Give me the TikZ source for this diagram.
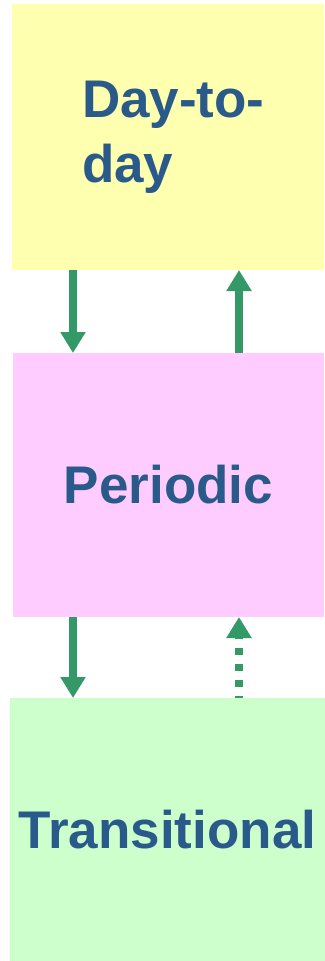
\documentclass[tikz,border=0pt]{standalone}
\usepackage{fontspec}
\setmainfont{Liberation Sans}
\usetikzlibrary{arrows.meta}
\definecolor{yel}{HTML}{FFFFB0}
\definecolor{pnk}{HTML}{FFCCFF}
\definecolor{grn}{HTML}{CCFFCC}
\definecolor{arrg}{HTML}{339966}
\definecolor{txt}{HTML}{2A5A8A}
\begin{document}
\begin{tikzpicture}[x=1pt,y=-1pt,
  box/.style={inner sep=0pt, outer sep=0pt, text=txt,
    font=\fontsize{53}{65}\selectfont\bfseries},
  arr/.style={draw=arrg, line width=8.5pt, -{Triangle[width=24pt,length=21pt]}, shorten >=0pt}]
\useasboundingbox (0,0) rectangle (324,961);
\node[box, fill=yel, minimum width=312pt, minimum height=266pt] (day) at (168,137) {};
\node[box, anchor=west, align=left] (daytxt) at (82,137) {Day-to-\\day};
\node[box, fill=pnk, minimum width=311pt, minimum height=264pt] (per) at (168.5,485) {Periodic};
\node[box, fill=grn, minimum width=314.5pt, minimum height=263pt] (tra) at (167.5,829.5) {Transitional};
\coordinate (cl) at (73,0);
\coordinate (cr) at (239,0);
\draw[arr] (day.south -| cl) -- (per.north -| cl);
\draw[arr] (per.north -| cr) -- (day.south -| cr);
\draw[arr] (per.south -| cl) -- (tra.north -| cl);
\draw[arr, dash pattern=on 7pt off 9pt, dash phase=5pt] (tra.north -| cr) -- (per.south -| cr);
\end{tikzpicture}
\end{document}
